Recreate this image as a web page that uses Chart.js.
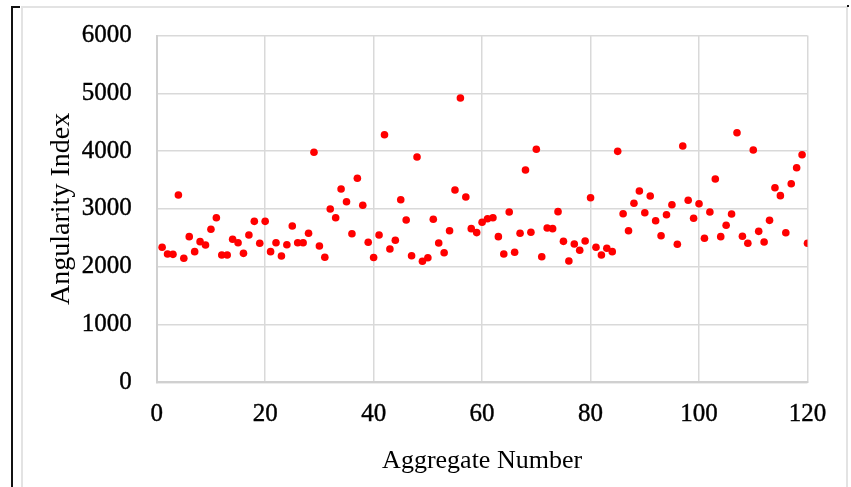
<!DOCTYPE html>
<html>
<head>
<meta charset="utf-8">
<script src="https://cdn.jsdelivr.net/npm/chart.js@4.4.1/dist/chart.umd.min.js"></script>
<style>
  html, body { margin: 0; padding: 0; background: #ffffff; }
  #wrap { width: 851px; height: 487px; position: relative; }
</style>
</head>
<body>
<div id="wrap"><canvas id="c" width="851" height="487"></canvas></div>
<script>
// Aggregate numbers (x) and angularity index values (y)
const aggregateNumbers = [
  1,2,3,4,5,6,7,8,9,10,11,12,13,14,15,16,17,18,19,20,
  21,22,23,24,25,26,27,28,29,30,31,32,33,34,35,36,37,38,39,40,
  41,42,43,44,45,46,47,48,49,50,51,52,53,54,55,56,57,58,59,60,
  61,62,63,64,65,66,67,68,69,70,71,72,73,74,75,76,77,78,79,80,
  81,82,83,84,85,86,87,88,89,90,91,92,93,94,95,96,97,98,99,100,
  101,102,103,104,105,106,107,108,109,110,111,112,113,114,115,116,117,118,119,120
];
const angularityIndex = [
  2336,2220,2214,3240,2145,2520,2260,2433,2375,2647,2848,2202,2202,2474,2415,2231,2548,2785,2405,2785,
  2260,2415,2185,2381,2704,2415,2415,2578,3979,2358,2163,2998,2848,3344,3125,2571,3529,3062,2422,2160,
  2548,4284,2306,2457,3159,2808,2190,3898,2093,2156,2820,2410,2242,2623,3327,4919,3206,2658,2590,2768,
  2830,2848,2520,2220,2946,2249,2578,3673,2595,4031,2173,2670,2658,2952,2439,2099,2393,2284,2445,3194,
  2336,2202,2318,2260,3996,2917,2623,3097,3310,2934,3223,2796,2536,2900,3073,2388,4088,3149,2837,3088,
  2491,2946,3517,2520,2716,2912,4318,2526,2405,4019,2612,2427,2802,3367,3229,2588,3436,3713,3938,2405
];
const xTicks = [0, 20, 40, 60, 80, 100, 120];
const yTicks = [0, 1000, 2000, 3000, 4000, 5000, 6000];
const xTitle = 'Aggregate Number';
const yTitle = 'Angularity Index';

const points = aggregateNumbers.map((x, i) => ({ x: x, y: angularityIndex[i] }));

const AREA = { left: 156.7, top: 35.5, right: 807.5, bottom: 382.3 };

const framePlugin = {
  id: 'frame',
  beforeDraw(chart) {
    const ctx = chart.ctx;
    ctx.save();
    ctx.fillStyle = '#ffffff';
    ctx.fillRect(0, 0, chart.width, chart.height);
    ctx.strokeStyle = '#e3e3e3';
    ctx.lineWidth = 2;
    ctx.strokeRect(22, 7, 825, 482);
    ctx.strokeStyle = '#111111';
    ctx.lineWidth = 2;
    ctx.beginPath();
    ctx.moveTo(12, 6);
    ctx.lineTo(12, 487);
    ctx.moveTo(11, 7);
    ctx.lineTo(20, 7);
    ctx.stroke();
    ctx.fillStyle = '#111111';
    ctx.fillRect(847, 5, 2, 2);
    ctx.restore();
  }
};

const serif = '"Liberation Serif", "Times New Roman", "DejaVu Serif", serif';

new Chart(document.getElementById('c'), {
  type: 'scatter',
  data: {
    datasets: [{
      data: points,
      backgroundColor: '#ff0000',
      borderColor: '#ff0000',
      borderWidth: 0,
      pointRadius: 3.8,
      pointHoverRadius: 3.8
    }]
  },
  options: {
    responsive: false,
    maintainAspectRatio: false,
    animation: false,
    devicePixelRatio: 1,
    layout: { padding: { left: 28, right: 851 - AREA.right, top: AREA.top, bottom: 5 } },
    plugins: { legend: { display: false }, title: { display: false }, tooltip: { enabled: false } },
    scales: {
      x: {
        type: 'linear',
        min: 0, max: 120,
        afterBuildTicks(scale) { scale.ticks = xTicks.map(v => ({ value: v })); },
        afterFit(scale) { scale.height = 487 - 5 - AREA.bottom; },
        grid: { color: '#d9d9d9', lineWidth: 1.5, drawTicks: false },
        border: { color: '#d0d0d0', width: 2 },
        ticks: { color: '#000', padding: 17, font: { family: serif, size: 25 },
                 textStrokeColor: '#000', textStrokeWidth: 0.4,
                 callback: (v) => String(v) },
        title: {
          display: true, text: xTitle, color: '#000',
          font: { family: serif, size: 26 },
          padding: { top: 0, bottom: 5.5 }
        }
      },
      y: {
        type: 'linear',
        min: 0, max: 6000,
        afterBuildTicks(scale) { scale.ticks = yTicks.map(v => ({ value: v })); },
        afterFit(scale) {
          scale.width = AREA.left - 28;
          scale.paddingTop = 15;
          scale.paddingBottom = 15;
        },
        grid: { color: '#d9d9d9', lineWidth: 1.5, drawTicks: false },
        border: { color: '#d0d0d0', width: 2 },
        ticks: { color: '#000', padding: 25, font: { family: serif, size: 25 },
                 textStrokeColor: '#000', textStrokeWidth: 0.4,
                 callback: (v) => String(v) },
        title: {
          display: true, text: yTitle, color: '#000',
          font: { family: serif, size: 28 },
          padding: { top: 17.2, bottom: 0 }
        }
      }
    }
  },
  plugins: [framePlugin]
});
</script>
</body>
</html>
